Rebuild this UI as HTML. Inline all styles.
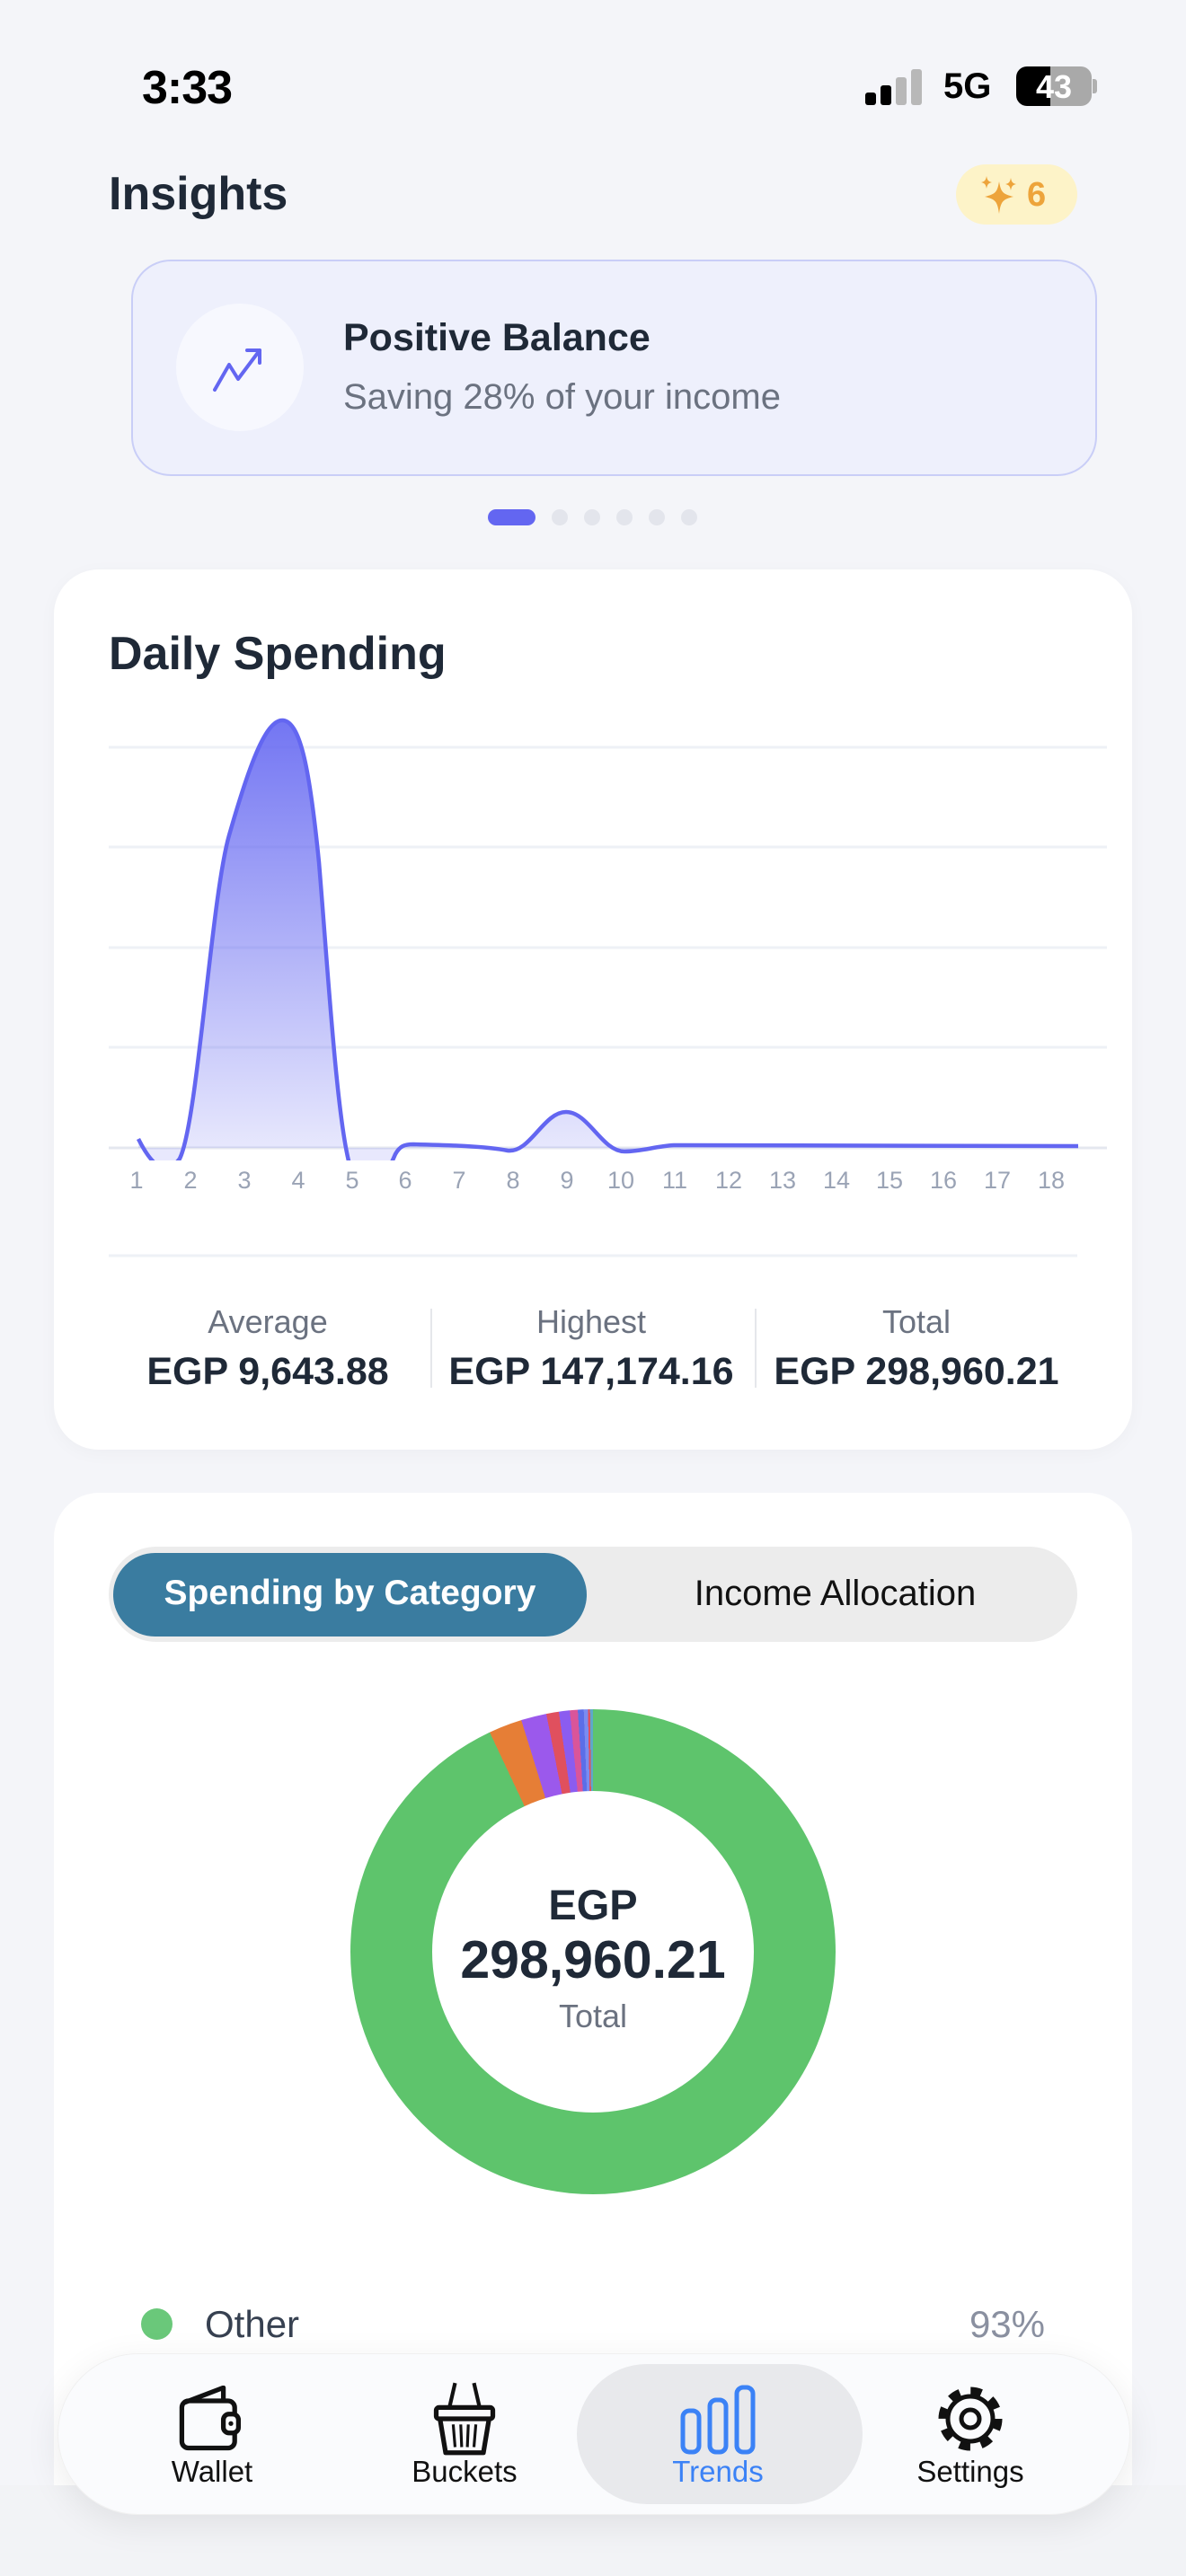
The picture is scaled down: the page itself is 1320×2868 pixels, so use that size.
<!DOCTYPE html>
<html><head><meta charset="utf-8">
<style>
*{margin:0;padding:0;box-sizing:border-box}
body{width:1320px;height:2868px;background:#f4f5f9;font-family:"Liberation Sans",sans-serif;position:relative;overflow:hidden}
.a{position:absolute}
.c{text-align:center}
</style></head><body>

<!-- status bar -->
<div class="a" style="left:158px;top:68px;font-size:52px;font-weight:bold;color:#000;letter-spacing:-1px">3:33</div>
<div class="a" style="left:963px;top:103px;width:12px;height:14px;background:#000;border-radius:3px"></div>
<div class="a" style="left:980px;top:95px;width:12px;height:22px;background:#000;border-radius:3px"></div>
<div class="a" style="left:997px;top:86px;width:12px;height:31px;background:#b8b8b8;border-radius:3px"></div>
<div class="a" style="left:1014px;top:77px;width:12px;height:40px;background:#b8b8b8;border-radius:3px"></div>
<div class="a" style="left:1050px;top:74px;font-size:40px;font-weight:bold;color:#000">5G</div>
<div class="a" style="left:1131px;top:74px;width:84px;height:44px;border-radius:12px;background:linear-gradient(90deg,#000 0,#000 45%,#a9a9a9 45%);"></div>
<div class="a" style="left:1216px;top:88px;width:5px;height:16px;border-radius:0 3px 3px 0;background:#b0b0b0"></div>
<div class="a" style="left:1131px;top:76px;width:84px;font-size:36px;font-weight:bold;color:#fff;text-align:center">43</div>

<!-- Insights header -->
<div class="a" style="left:121px;top:186px;font-size:52px;font-weight:bold;color:#1f2937">Insights</div>
<div class="a" style="left:1064px;top:183px;width:135px;height:67px;border-radius:34px;background:#fdf3c8"></div>
<svg class="a" style="left:1088px;top:194px" width="46" height="46" viewBox="0 0 46 46">
<path d="M24 8 C26 20 28 22 40 25 C28 28 26 30 24 44 C22 30 20 28 8 25 C20 22 22 20 24 8Z" fill="#eda43b"/>
<path d="M10 2 C11 7 12 8 16 9 C12 10 11 11 10 16 C9 11 8 10 4 9 C8 8 9 7 10 2Z" fill="#eda43b"/>
<path d="M37 4 C38 9 39 10 43 11 C39 12 38 13 37 18 C36 13 35 12 31 11 C35 10 36 9 37 4Z" fill="#eda43b"/>
</svg>
<div class="a" style="left:1143px;top:196px;font-size:38px;color:#eda43b;font-weight:bold">6</div>

<!-- insight card -->
<div class="a" style="left:146px;top:289px;width:1075px;height:241px;border-radius:44px;background:#eef0fc;border:2px solid #c9cef7"></div>
<div class="a" style="left:196px;top:338px;width:142px;height:142px;border-radius:50%;background:#f7f8fe"></div>
<svg class="a" style="left:235px;top:380px" width="66" height="60" viewBox="0 0 66 60">
<polyline points="4,54 20,26 30,42 54,10" fill="none" stroke="#6366f1" stroke-width="4" stroke-linecap="round" stroke-linejoin="round"/>
<polyline points="40,10 54,10 54,24" fill="none" stroke="#6366f1" stroke-width="4" stroke-linecap="round" stroke-linejoin="round"/>
</svg>
<div class="a" style="left:382px;top:352px;font-size:43px;font-weight:bold;color:#1f2937">Positive Balance</div>
<div class="a" style="left:382px;top:420px;font-size:40px;color:#6b7280">Saving 28% of your income</div>

<!-- dots -->
<div class="a" style="left:543px;top:567px;width:53px;height:18px;border-radius:9px;background:#6366f1"></div>
<div class="a" style="left:614px;top:567px;width:18px;height:18px;border-radius:50%;background:#e3e5ec"></div>
<div class="a" style="left:650px;top:567px;width:18px;height:18px;border-radius:50%;background:#e3e5ec"></div>
<div class="a" style="left:686px;top:567px;width:18px;height:18px;border-radius:50%;background:#e3e5ec"></div>
<div class="a" style="left:722px;top:567px;width:18px;height:18px;border-radius:50%;background:#e3e5ec"></div>
<div class="a" style="left:758px;top:567px;width:18px;height:18px;border-radius:50%;background:#e3e5ec"></div>

<!-- Daily spending card -->
<div class="a" style="left:60px;top:634px;width:1200px;height:980px;border-radius:50px;background:#fff;box-shadow:0 4px 20px rgba(0,0,0,0.03)"></div>
<div class="a" style="left:121px;top:698px;font-size:52px;font-weight:bold;color:#1f2937">Daily Spending</div>

<svg class="a" style="left:0;top:0" width="1320" height="1400" viewBox="0 0 1320 1400">
<defs>
<linearGradient id="g" x1="0" y1="800" x2="0" y2="1280" gradientUnits="userSpaceOnUse">
<stop offset="0" stop-color="#6366f1" stop-opacity="0.9"/>
<stop offset="1" stop-color="#6366f1" stop-opacity="0.15"/>
</linearGradient>
<clipPath id="cp"><rect x="100" y="780" width="1150" height="512"/></clipPath>
</defs>
<g stroke="#eef1f6" stroke-width="3">
<line x1="121" y1="832" x2="1232" y2="832"/>
<line x1="121" y1="943" x2="1232" y2="943"/>
<line x1="121" y1="1055" x2="1232" y2="1055"/>
<line x1="121" y1="1166" x2="1232" y2="1166"/>
<line x1="121" y1="1278" x2="1232" y2="1278" stroke="#e4e7ef"/>
</g>
<g clip-path="url(#cp)">
<path d="M154,1268 C170,1300 185,1310 200,1290 C220,1250 235,1000 255,930 C275,860 295,800 315,802 C335,804 345,860 355,960 C365,1080 375,1250 390,1300 C410,1340 425,1320 440,1285 C445,1276 450,1274 460,1274 C500,1275 540,1276 565,1281 C590,1284 605,1238 630,1238 C655,1238 670,1282 695,1282 C715,1282 730,1276 750,1275 L1200,1276 L1200,1278 L154,1278 Z" fill="url(#g)"/>
<path d="M154,1268 C170,1300 185,1310 200,1290 C220,1250 235,1000 255,930 C275,860 295,800 315,802 C335,804 345,860 355,960 C365,1080 375,1250 390,1300 C410,1340 425,1320 440,1285 C445,1276 450,1274 460,1274 C500,1275 540,1276 565,1281 C590,1284 605,1238 630,1238 C655,1238 670,1282 695,1282 C715,1282 730,1276 750,1275 L1200,1276" fill="none" stroke="#6366f1" stroke-width="4.5"/>
</g>
<g font-family="Liberation Sans" font-size="27" fill="#9aa3b5" text-anchor="middle">
<text x="152" y="1323">1</text><text x="212" y="1323">2</text><text x="272" y="1323">3</text><text x="332" y="1323">4</text><text x="392" y="1323">5</text><text x="451" y="1323">6</text><text x="511" y="1323">7</text><text x="571" y="1323">8</text><text x="631" y="1323">9</text><text x="691" y="1323">10</text><text x="751" y="1323">11</text><text x="811" y="1323">12</text><text x="871" y="1323">13</text><text x="931" y="1323">14</text><text x="990" y="1323">15</text><text x="1050" y="1323">16</text><text x="1110" y="1323">17</text><text x="1170" y="1323">18</text>
</g>
<line x1="121" y1="1398" x2="1199" y2="1398" stroke="#eef1f6" stroke-width="3"/>
</svg>

<div class="a" style="left:479px;top:1457px;width:2px;height:88px;background:#e5e7eb"></div>
<div class="a" style="left:840px;top:1457px;width:2px;height:88px;background:#e5e7eb"></div>
<div class="a c" style="left:148px;top:1451px;width:300px;font-size:36px;color:#6b7280">Average</div>
<div class="a c" style="left:508px;top:1451px;width:300px;font-size:36px;color:#6b7280">Highest</div>
<div class="a c" style="left:870px;top:1451px;width:300px;font-size:36px;color:#6b7280">Total</div>
<div class="a c" style="left:98px;top:1503px;width:400px;font-size:43px;font-weight:bold;color:#1f2937">EGP 9,643.88</div>
<div class="a c" style="left:458px;top:1503px;width:400px;font-size:43px;font-weight:bold;color:#1f2937">EGP 147,174.16</div>
<div class="a c" style="left:820px;top:1503px;width:400px;font-size:43px;font-weight:bold;color:#1f2937">EGP 298,960.21</div>

<!-- Category card -->
<div class="a" style="left:60px;top:1662px;width:1200px;height:1110px;border-radius:50px 50px 0 0;background:#fff"></div>
<div class="a" style="left:121px;top:1722px;width:1078px;height:106px;border-radius:53px;background:#ececec"></div>
<div class="a" style="left:126px;top:1729px;width:527px;height:93px;border-radius:47px;background:#3a7ca0"></div>
<div class="a c" style="left:126px;top:1752px;width:527px;font-size:39px;font-weight:bold;color:#fff">Spending by Category</div>
<div class="a c" style="left:660px;top:1752px;width:539px;font-size:40px;color:#111">Income Allocation</div>

<!-- donut -->
<div class="a" style="left:390px;top:1903px;width:540px;height:540px;border-radius:50%;background:conic-gradient(#5ec46c 0deg 334.8deg,#e67e36 334.8deg 342.8deg,#9b59ec 342.8deg 348.9deg,#e0505e 348.9deg 351.9deg,#8b5cf0 351.9deg 354.5deg,#d9559a 354.5deg 356.4deg,#5b6ee8 356.4deg 357.8deg,#7a8cf0 357.8deg 358.8deg,#e0505e 358.8deg 359.3deg,#5fa8c8 359.3deg 360deg)"></div>
<div class="a" style="left:481px;top:1994px;width:358px;height:358px;border-radius:50%;background:#fff"></div>
<div class="a c" style="left:460px;top:2093px;width:400px;font-size:47px;font-weight:bold;color:#1f2937">EGP</div>
<div class="a c" style="left:430px;top:2148px;width:460px;font-size:59px;font-weight:bold;color:#1f2937">298,960.21</div>
<div class="a c" style="left:460px;top:2224px;width:400px;font-size:36px;color:#6b7280">Total</div>

<!-- legend -->
<div class="a" style="left:157px;top:2570px;width:35px;height:35px;border-radius:50%;background:#6ac87a"></div>
<div class="a" style="left:228px;top:2564px;font-size:42px;color:#374151">Other</div>
<div class="a" style="left:1013px;top:2564px;width:150px;text-align:right;font-size:42px;color:#8a90a0">93%</div>

<!-- bottom fade -->
<div class="a" style="left:0;top:2767px;width:1320px;height:101px;background:#f2f3f6"></div>

<!-- nav -->
<div class="a" style="left:64px;top:2620px;width:1194px;height:180px;border-radius:90px;background:rgba(250,251,253,0.96);box-shadow:0 10px 40px rgba(0,0,0,0.08);border:1px solid #f0f0f0"></div>
<div class="a" style="left:642px;top:2632px;width:318px;height:156px;border-radius:78px;background:#e8e9ec"></div>

<svg class="a" style="left:194px;top:2656px" width="84" height="74" viewBox="0 0 80 70">
<rect x="8" y="16" width="56" height="50" rx="7" fill="none" stroke="#111" stroke-width="5"/>
<path d="M10 18 L52 2 L52 16" fill="none" stroke="#111" stroke-width="5" stroke-linejoin="round"/>
<rect x="52" y="30" width="16" height="20" rx="6" fill="#fafbfd" stroke="#111" stroke-width="5"/>
<circle cx="60" cy="40" r="2.5" fill="#111"/>
</svg>
<svg class="a" style="left:475px;top:2651px" width="84" height="84" viewBox="0 0 80 80">
<path d="M24 28 L30 2 M56 28 L50 2" stroke="#111" stroke-width="4" fill="none"/>
<rect x="10" y="28" width="60" height="12" rx="3" fill="none" stroke="#111" stroke-width="5"/>
<path d="M14 40 L20 76 L60 76 L66 40" fill="none" stroke="#111" stroke-width="5" stroke-linejoin="round"/>
<path d="M28 46 L30 70 M36 46 L37 70 M44 46 L43 70 M52 46 L50 70" stroke="#111" stroke-width="3"/>
</svg>
<svg class="a" style="left:756px;top:2654px" width="86" height="80" viewBox="0 0 86 80">
<rect x="4" y="30" width="18" height="46" rx="7" fill="none" stroke="#3b82f6" stroke-width="5"/>
<rect x="34" y="18" width="18" height="58" rx="7" fill="none" stroke="#3b82f6" stroke-width="5"/>
<rect x="64" y="4" width="18" height="72" rx="7" fill="none" stroke="#3b82f6" stroke-width="5"/>
</svg>
<svg class="a" style="left:1040px;top:2653px" width="80" height="80" viewBox="0 0 80 80">
<circle cx="40" cy="40" r="31" fill="none" stroke="#111" stroke-width="9" stroke-dasharray="12.2 12.15"/>
<circle cx="40" cy="40" r="25" fill="#fafbfd" stroke="#111" stroke-width="5"/>
<circle cx="40" cy="40" r="10" fill="none" stroke="#111" stroke-width="5"/>
</svg>

<div class="a c" style="left:156px;top:2733px;width:160px;font-size:33px;color:#111">Wallet</div>
<div class="a c" style="left:437px;top:2733px;width:160px;font-size:33px;color:#111">Buckets</div>
<div class="a c" style="left:719px;top:2733px;width:160px;font-size:33px;color:#3b82f6">Trends</div>
<div class="a c" style="left:1000px;top:2733px;width:160px;font-size:33px;color:#111">Settings</div>

</body></html>
